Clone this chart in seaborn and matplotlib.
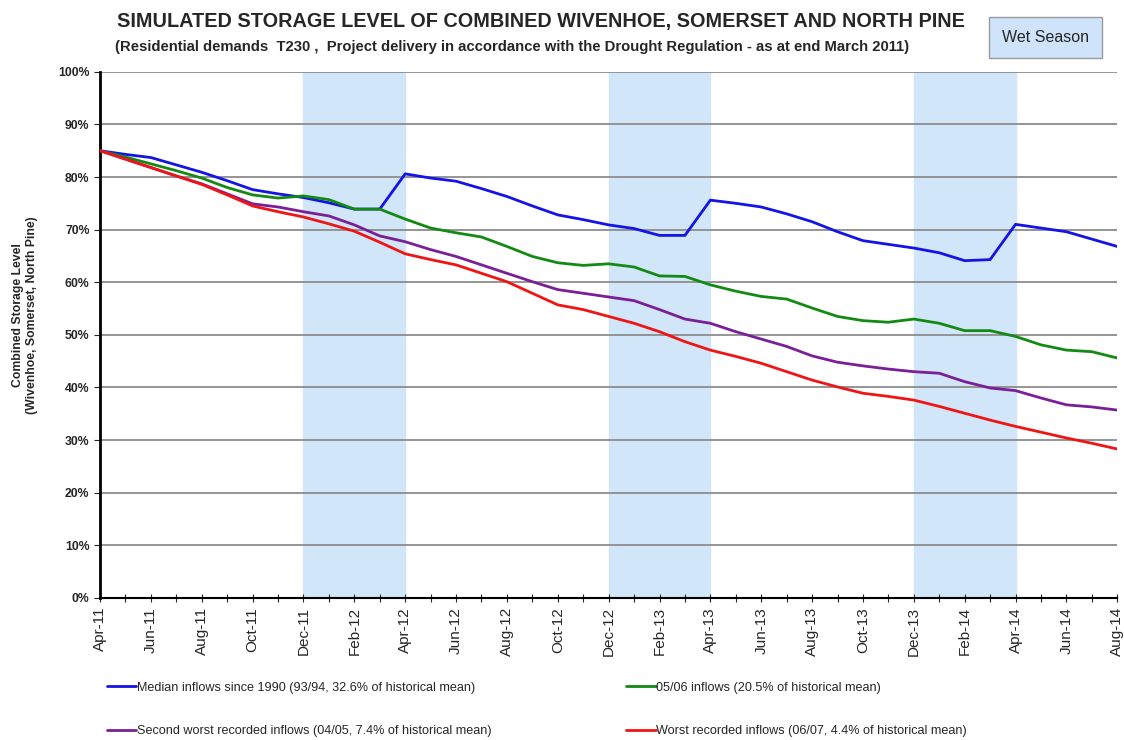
import matplotlib
matplotlib.use("Agg")
import matplotlib.pyplot as plt
import seaborn as sns
import pandas as pd
import numpy as np

# monthly storage levels (%), Apr-11 .. Aug-14
months = pd.date_range("2011-04-01", periods=41, freq="MS").strftime("%b-%y").tolist()

median_1990 = [85.0, 84.3, 83.7, 82.3, 80.9, 79.3, 77.6, 76.8, 76.1, 75.1, 73.9, 73.9,
               80.6, 79.8, 79.2, 77.8, 76.3, 74.5, 72.8, 71.9, 70.9, 70.2, 68.9, 68.9,
               75.6, 75.0, 74.3, 73.0, 71.5, 69.6, 67.9, 67.2, 66.5, 65.6, 64.1, 64.3,
               71.0, 70.3, 69.6, 68.2, 66.8]
inflows_0506 = [85.0, 83.8, 82.5, 81.2, 79.8, 78.0, 76.6, 76.0, 76.4, 75.7, 73.9, 73.9,
                72.0, 70.3, 69.4, 68.6, 66.8, 64.9, 63.7, 63.2, 63.5, 62.9, 61.2, 61.1,
                59.5, 58.3, 57.3, 56.8, 55.1, 53.5, 52.7, 52.4, 53.0, 52.2, 50.8, 50.8,
                49.7, 48.1, 47.1, 46.8, 45.6]
second_worst = [85.0, 83.4, 81.8, 80.2, 78.7, 76.8, 74.9, 74.3, 73.4, 72.6, 70.9, 68.8,
                67.7, 66.2, 64.9, 63.3, 61.7, 60.1, 58.6, 57.9, 57.2, 56.5, 54.8, 53.0,
                52.2, 50.6, 49.2, 47.8, 46.0, 44.8, 44.1, 43.5, 43.0, 42.7, 41.1, 39.9,
                39.4, 38.0, 36.7, 36.3, 35.7]
worst = [85.0, 83.4, 81.8, 80.2, 78.6, 76.6, 74.5, 73.4, 72.4, 71.1, 69.7, 67.6,
         65.4, 64.3, 63.3, 61.7, 60.1, 57.9, 55.7, 54.8, 53.5, 52.2, 50.6, 48.7,
         47.1, 45.9, 44.6, 43.0, 41.4, 40.1, 38.9, 38.3, 37.6, 36.4, 35.1, 33.8,
         32.6, 31.5, 30.4, 29.4, 28.3]

series_names = ["Median inflows since 1990 (93/94, 32.6% of historical mean)",
                "05/06 inflows (20.5% of historical mean)",
                "Second worst recorded inflows (04/05, 7.4% of historical mean)",
                "Worst recorded inflows (06/07, 4.4% of historical mean)"]
series_colors = ["#1414e6", "#138a13", "#7b1f96", "#f01414"]
wet_seasons = [("Dec-11", "Apr-12"), ("Dec-12", "Apr-13"), ("Dec-13", "Apr-14")]

sns.set_style("white")
plt.rcParams["font.family"] = ["Liberation Sans", "DejaVu Sans"]

df = pd.DataFrame({"month": months, "idx": range(len(months)),
                   series_names[0]: median_1990, series_names[1]: inflows_0506,
                   series_names[2]: second_worst, series_names[3]: worst})
long = df.melt(id_vars=["month", "idx"], var_name="series", value_name="level")

fig = plt.figure(figsize=(11.24, 7.4), dpi=100)
ax = fig.add_axes([0.089, 0.192, 0.905, 0.711])

for start, end in wet_seasons:
    ax.axvspan(months.index(start), months.index(end), color="#d2e6fa", zorder=0)

ax.set_yticks(range(0, 101, 10))
ax.yaxis.grid(True, color="#8c8c8c", linewidth=1.3, zorder=1)
ax.set_axisbelow(True)

sns.lineplot(data=long, x="idx", y="level", hue="series", hue_order=series_names,
             palette=series_colors, linewidth=2.0, ax=ax, legend=False, zorder=3)

ax.set_xlim(0, len(months) - 1)
ax.set_ylim(0, 100)
ax.set_yticklabels([f"{v}%" for v in range(0, 101, 10)], fontsize=8.8, fontweight="bold")
ax.set_xticks(range(0, len(months), 2))
ax.set_xticklabels(months[::2], rotation=90, fontsize=11)
ax.set_xticks(range(len(months)), minor=True)
ax.tick_params(axis="x", which="both", direction="inout", length=6, width=0.8, bottom=True)
ax.tick_params(axis="y", direction="out", length=4, left=True)
ax.set_xlabel("")
ax.set_ylabel("Combined Storage Level\n(Wivenhoe, Somerset, North Pine)",
              fontsize=8.8, fontweight="bold")
ax.yaxis.set_label_coords(-0.061, 0.538)

for s in ["top", "right"]:
    ax.spines[s].set_visible(False)
ax.spines["left"].set_linewidth(2)
ax.spines["bottom"].set_linewidth(1.5)
ax.spines["left"].set_color("black")
ax.spines["bottom"].set_color("black")

fig.text(0.481, 0.971, "SIMULATED STORAGE LEVEL OF COMBINED WIVENHOE, SOMERSET AND NORTH PINE",
         ha="center", va="center", fontsize=14.3, fontweight="bold")
fig.text(0.456, 0.937, "(Residential demands  T230 ,  Project delivery in accordance with the Drought Regulation - as at end March 2011)",
         ha="center", va="center", fontsize=10.7, fontweight="bold")
fig.text(0.930, 0.949, "Wet Season", ha="center", va="center", fontsize=11.5,
         bbox=dict(boxstyle="square,pad=0.8", facecolor="#cfe4fa", edgecolor="#9a9a9a"))

# legend laid out in rows: median | 05/06, second worst | worst
order = [0, 2, 1, 3]
handles = [plt.Line2D([], [], color=series_colors[i], linewidth=2.0) for i in order]
labels = [series_names[i] for i in order]
fig.legend(handles, labels, loc="upper left", bbox_to_anchor=(0.085, 0.094),
           ncol=2, frameon=False, fontsize=9.1, handlelength=2.3, handletextpad=0.05,
           labelspacing=2.5, columnspacing=10.7)

fig.savefig("out.png", dpi=100)
